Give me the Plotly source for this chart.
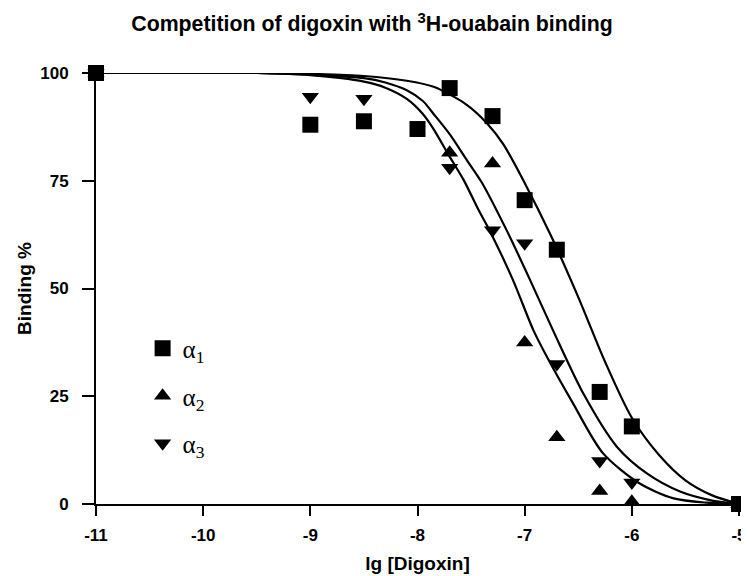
import plotly.graph_objects as go

# ---- data ----
alpha1_x = [-11, -9, -8.5, -8, -7.7, -7.3, -7, -6.7, -6.3, -6, -5]
alpha1_y = [100, 88, 88.8, 87, 96.5, 90, 70.5, 59, 26, 18, 0]

alpha2_x = [-11, -7.7, -7.3, -7, -6.7, -6.3, -6, -5]
alpha2_y = [100, 81.5, 79, 37.5, 15.5, 3, 0.5, 0]

alpha3_x = [-11, -9, -8.5, -7.7, -7.3, -7, -6.7, -6.3, -6, -5]
alpha3_y = [100, 94.5, 94, 78, 63.5, 60.5, 32.5, 10, 5, 0]

# fitted curves
fit1_x = [-11, -9.5, -9, -8.5, -8.1, -7.85, -7.55, -7.35, -7.2, -7.0, -6.75, -6.5, -6.25, -6.0, -5.75, -5.5, -5.25, -5.0]
fit1_y = [100, 100, 99.8, 99.3, 98.2, 96.8, 92.8, 88.3, 83.5, 74.5, 62, 48, 33, 20, 11.5, 5.5, 2, 0]

fit3_x = [-11, -9.5, -9, -8.5, -8.3, -8.1, -7.95, -7.85, -7.7, -7.54, -7.4, -7.17, -6.95, -6.73, -6.45, -6.14, -5.86, -5.55, -5.25, -5.0]
fit3_y = [100, 100, 99.6, 98.8, 97.8, 96.0, 93.5, 90.5, 85.8, 79.8, 74.6, 63.6, 52.0, 40.0, 25.5, 13.3, 7.1, 2.9, 0.8, 0]

fit2_x = [-11, -9.5, -9, -8.5, -8.3, -8.1, -7.95, -7.85, -7.71, -7.57, -7.43, -7.33, -7.11, -6.92, -6.8, -6.55, -6.27, -5.93, -5.61, -5.3, -5.0]
fit2_y = [100, 100, 99.5, 98.0, 96.6, 94.0, 90.5, 87.0, 81.0, 75.2, 68.2, 63.6, 52.0, 40.4, 34.5, 23.4, 11.8, 4.8, 1.3, 0.3, 0]

x_ticks = [-11, -10, -9, -8, -7, -6, -5]
y_ticks = [0, 25, 50, 75, 100]

names = ["α<sub>1</sub>", "α<sub>2</sub>", "α<sub>3</sub>"]

fig = go.Figure()

for fx, fy in [(fit1_x, fit1_y), (fit2_x, fit2_y), (fit3_x, fit3_y)]:
    fig.add_trace(go.Scatter(x=fx, y=fy, mode="lines",
                             line=dict(color="black", width=2.2, shape="spline", smoothing=0.8),
                             showlegend=False, hoverinfo="skip", cliponaxis=False))

series = [(alpha1_x, alpha1_y, "square", 16),
          (alpha2_x, alpha2_y, "triangle-up", 15),
          (alpha3_x, alpha3_y, "triangle-down", 15)]
for i, (sx, sy, sym, sz) in enumerate(series):
    fig.add_trace(go.Scatter(x=sx, y=sy, mode="markers", name=names[i],
                             legendgroup=f"g{i}",
                             marker=dict(symbol=sym, size=sz, color="black"),
                             cliponaxis=False))

# page body adds an 8px offset; the figure is sized to fit inside the 749x576 window
fig.update_layout(
    width=741, height=568,
    margin=dict(l=88, r=10, t=65, b=72, autoexpand=False),
    paper_bgcolor="white", plot_bgcolor="white",
    font=dict(family="Liberation Sans, Arial, sans-serif", color="black"),
    title=dict(text="Competition of digoxin with <sup>3</sup>H-ouabain binding",
               font=dict(size=21.3, weight="bold"),
               x=364 / 741, xref="container", xanchor="center",
               y=1 - 16 / 568, yref="container", yanchor="middle"),
    legend=dict(x=0.0725, y=0.414, xanchor="left", yanchor="top",
                font=dict(family="Liberation Serif, Times New Roman, serif", size=25),
                tracegroupgap=12, bgcolor="rgba(0,0,0,0)"),
)

fig.update_xaxes(range=[-11, -5], tickvals=x_ticks, ticktext=[str(v) for v in x_ticks],
                 automargin=False, ticklabeloverflow="allow",
                 showline=True, linecolor="black", linewidth=2,
                 ticks="outside", ticklen=10, tickwidth=2, tickcolor="black",
                 tickfont=dict(size=17, weight="bold"), ticklabelstandoff=5,
                 showgrid=False, zeroline=False,
                 title=dict(text="lg [Digoxin]", font=dict(size=19, weight="bold"), standoff=12))
fig.update_yaxes(range=[0, 100], tickvals=y_ticks, ticktext=[str(v) for v in y_ticks],
                 automargin=False,
                 showline=True, linecolor="black", linewidth=2,
                 ticks="outside", ticklen=12, tickwidth=2, tickcolor="black",
                 tickfont=dict(size=17, weight="bold"), ticklabelstandoff=10,
                 showgrid=False, zeroline=False,
                 title=dict(text="Binding %", font=dict(size=19, weight="bold"), standoff=4))

fig.write_html("out.html")
